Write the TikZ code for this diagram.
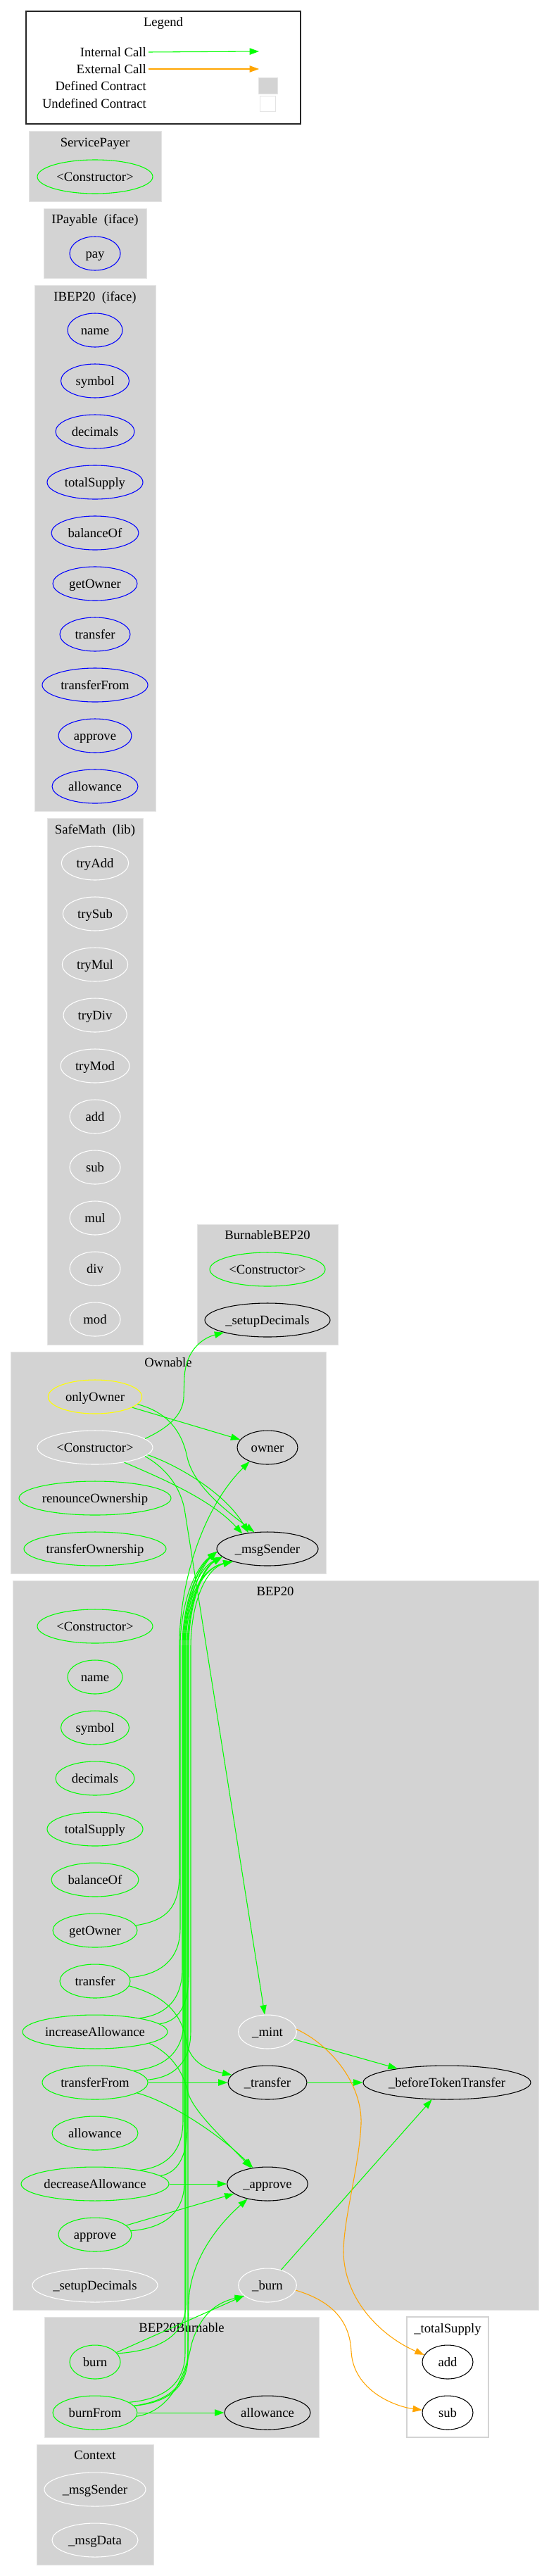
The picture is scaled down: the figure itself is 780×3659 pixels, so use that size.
\documentclass[tikz,border=0pt]{standalone}
\usepackage{fontspec}
\setmainfont{Liberation Serif}
\usetikzlibrary{shapes.geometric,arrows.meta}
\definecolor{cgreen}{HTML}{00FF00}
\definecolor{corange}{HTML}{FFA500}
\definecolor{cyellow}{HTML}{FFFF00}
\definecolor{cblue}{HTML}{0000FF}
\definecolor{cgray}{HTML}{D3D3D3}
\definecolor{cedge}{HTML}{E4E4E4}
\newcommand\toMsg[5]{\draw[ie] (#1) .. controls ({#2+0.6*(#4-#2)},{#3-4}) and (#4,{#3-25}) .. (#4,{#3-70}) -- (#4,2340) .. controls (#4,2280) and ({#4+20},2228) .. (msgO.#5);}
\begin{document}
\begin{tikzpicture}[x=0.75pt,y=-0.75pt,
  every node/.style={font=\fontsize{14pt}{16pt}\selectfont},
  fn/.style={ellipse, draw, inner sep=0pt, minimum height=36pt, line width=0.8pt, text height=12pt, text depth=3pt},
  ttl/.style={inner sep=0pt, text height=12pt, text depth=3pt},
  lt/.style={inner sep=0pt, text height=12pt, text depth=3pt, anchor=east},
  clus/.style={fill=cgray, draw=cedge, line width=0.75pt},
  ie/.style={draw=cgreen, line width=0.8pt, -{Triangle[length=10pt,width=7pt]}},
  ee/.style={draw=corange, line width=0.8pt, -{Triangle[length=10pt,width=7pt]}}]
\useasboundingbox (0,0) rectangle (780,3659);
\fill[white] (0,0) rectangle (780,3659);

% ---------- Legend ----------
\draw[line width=0.9pt, draw=black!85] (37,16) rectangle (427,176);
\node[ttl] (legT) at (232,31) {Legend};
\node[lt] (lg1) at (208,74) {Internal Call};
\node[lt] (lg2) at (208,98) {External Call};
\node[lt] (lg3) at (208,122) {Defined Contract};
\node[lt] (lg4) at (208,147) {Undefined Contract};
\coordinate (lg1e) at (368,73);
\coordinate (lg2e) at (368,98);
\draw[ie] ([xshift=2.25pt]lg1.east) -- (lg1e);
\draw[ee] ([xshift=2.25pt]lg2.east) -- (lg2e);
\draw[fill=cgray, draw=cedge, line width=0.75pt] (367,110) rectangle (394,133);
\draw[fill=white, draw=cedge, line width=0.75pt] (369,136) rectangle (391,158);

% ---------- Clusters ----------
\draw[clus] (41,186) rectangle (229,286);
\node[ttl] (tSP) at (135,202) {ServicePayer};
\draw[clus] (62,296) rectangle (208,395);
\node[ttl] (tIP) at (135,311) {IPayable\ \ (iface)};
\draw[clus] (49,405) rectangle (221,1152);
\node[ttl] (tIB) at (135,421) {IBEP20\ \ (iface)};
\draw[clus] (67,1162) rectangle (203,1910);
\node[ttl] (tSM) at (135,1178) {SafeMath\ \ (lib)};
\draw[clus] (280,1739) rectangle (480,1910);
\node[ttl] (tBB) at (380,1754) {BurnableBEP20};
\draw[clus] (15,1920) rectangle (463,2235);
\node[ttl] (tOW) at (239,1935) {Ownable};
\draw[clus] (18,2245) rectangle (765,3281);
\node[ttl] (tBE) at (391,2260) {BEP20};
\draw[clus] (63,3291) rectangle (453,3462);
\node[ttl] (tBU) at (258,3306) {BEP20Burnable};
\draw[fill=white, draw=cgray, line width=0.9pt] (578,3291) rectangle (694,3462);
\node[ttl] (tTS) at (636,3307) {\_totalSupply};
\draw[clus] (52,3472) rectangle (218,3643);
\node[ttl] (tCX) at (135,3487) {Context};

% ---------- Nodes ----------
\node[fn, draw=cgreen, minimum width=123pt] (spCtor) at (135,251) {<Constructor>};
\node[fn, draw=cblue, minimum width=54pt] (ipPay) at (135,360) {pay};

\node[fn, draw=cblue, minimum width=58.5pt] (ibName) at (135,469) {name};
\node[fn, draw=cblue, minimum width=72.75pt] (ibSymbol) at (135,541) {symbol};
\node[fn, draw=cblue, minimum width=84pt] (ibDecimals) at (135,613) {decimals};
\node[fn, draw=cblue, minimum width=102pt] (ibTotal) at (135,685) {totalSupply};
\node[fn, draw=cblue, minimum width=93pt] (ibBalance) at (135,757) {balanceOf};
\node[fn, draw=cblue, minimum width=90pt] (ibGetOwner) at (135,829) {getOwner};
\node[fn, draw=cblue, minimum width=75pt] (ibTransfer) at (135,901) {transfer};
\node[fn, draw=cblue, minimum width=112.5pt] (ibTransferFrom) at (135,973) {transferFrom};
\node[fn, draw=cblue, minimum width=78pt] (ibApprove) at (135,1045) {approve};
\node[fn, draw=cblue, minimum width=91.5pt] (ibAllowance) at (135,1117) {allowance};

\node[fn, draw=white, minimum width=71.5pt] (smTryAdd) at (135,1226) {tryAdd};
\node[fn, draw=white, minimum width=68.5pt] (smTrySub) at (135,1298) {trySub};
\node[fn, draw=white, minimum width=70pt] (smTryMul) at (135,1370) {tryMul};
\node[fn, draw=white, minimum width=67.5pt] (smTryDiv) at (135,1442) {tryDiv};
\node[fn, draw=white, minimum width=73.5pt] (smTryMod) at (135,1514) {tryMod};
\node[fn, draw=white, minimum width=54pt] (smAdd) at (135,1586) {add};
\node[fn, draw=white, minimum width=54pt] (smSub) at (135,1658) {sub};
\node[fn, draw=white, minimum width=54pt] (smMul) at (135,1730) {mul};
\node[fn, draw=white, minimum width=54pt] (smDiv) at (135,1802) {div};
\node[fn, draw=white, minimum width=54pt] (smMod) at (135,1874) {mod};

\node[fn, draw=cgreen, minimum width=123pt] (bbCtor) at (380,1803) {<Constructor>};
\node[fn, draw=black, minimum width=133.5pt] (bbSetup) at (380,1875) {\_setupDecimals};

\node[fn, draw=cyellow, minimum width=100pt] (onlyOwner) at (135,1984) {onlyOwner};
\node[fn, draw=white, minimum width=123pt] (ownCtor) at (135,2056) {<Constructor>};
\node[fn, draw=cgreen, minimum width=162pt] (ownRenounce) at (135,2128) {renounceOwnership};
\node[fn, draw=cgreen, minimum width=151.5pt] (ownTransferOwn) at (135,2200) {transferOwnership};
\node[fn, draw=black, minimum width=64.5pt] (owner) at (380,2056) {owner};
\node[fn, draw=black, minimum width=108pt] (msgO) at (380,2200) {\_msgSender};

\node[fn, draw=cgreen, minimum width=123pt] (bCtor) at (135,2310) {<Constructor>};
\node[fn, draw=cgreen, minimum width=58.5pt] (bName) at (135,2382) {name};
\node[fn, draw=cgreen, minimum width=72.75pt] (bSymbol) at (135,2454) {symbol};
\node[fn, draw=cgreen, minimum width=84pt] (bDecimals) at (135,2526) {decimals};
\node[fn, draw=cgreen, minimum width=102pt] (bTotal) at (135,2598) {totalSupply};
\node[fn, draw=cgreen, minimum width=93pt] (bBalance) at (135,2670) {balanceOf};
\node[fn, draw=cgreen, minimum width=90pt] (bGetOwner) at (135,2742) {getOwner};
\node[fn, draw=cgreen, minimum width=75pt] (bTransfer) at (135,2814) {transfer};
\node[fn, draw=cgreen, minimum width=154.5pt] (bInc) at (135,2886) {increaseAllowance};
\node[fn, draw=cgreen, minimum width=112.5pt] (bTF) at (135,2958) {transferFrom};
\node[fn, draw=cgreen, minimum width=91.5pt] (bAllowance) at (135,3030) {allowance};
\node[fn, draw=cgreen, minimum width=157.5pt] (bDec) at (135,3102) {decreaseAllowance};
\node[fn, draw=cgreen, minimum width=78pt] (bApprove) at (135,3174) {approve};
\node[fn, draw=white, minimum width=133.5pt] (bSetup) at (135,3246) {\_setupDecimals};

\node[fn, draw=white, minimum width=62pt] (mint) at (380,2886) {\_mint};
\node[fn, draw=black, minimum width=84pt] (xfer) at (380,2958) {\_transfer};
\node[fn, draw=black, minimum width=86pt] (appr) at (380,3102) {\_approve};
\node[fn, draw=white, minimum width=62pt] (burnI) at (380,3246) {\_burn};
\node[fn, draw=black, minimum width=178.5pt] (btt) at (635,2958) {\_beforeTokenTransfer};

\node[fn, draw=cgreen, minimum width=54pt] (bbBurn) at (135,3355) {burn};
\node[fn, draw=cgreen, minimum width=90pt] (bbBurnFrom) at (135,3427) {burnFrom};
\node[fn, draw=black, minimum width=91.5pt] (bbAllow) at (380,3427) {allowance};

\node[fn, draw=black, minimum width=54pt] (tsAdd) at (636,3355) {add};
\node[fn, draw=black, minimum width=54pt] (tsSub) at (636,3427) {sub};

\node[fn, draw=white, minimum width=108pt] (cxSender) at (135,3536) {\_msgSender};
\node[fn, draw=white, minimum width=91.5pt] (cxData) at (135,3608) {\_msgData};

% ---------- Edges: Ownable ----------
\draw[ie] (onlyOwner.-16) -- (owner.164);
\draw[ie] (onlyOwner.-10) .. controls (235,2005) and (258,2030) .. (266,2070) .. controls (275,2110) and (320,2145) .. (msgO.128);
\draw[ie] (ownCtor.10) .. controls (235,2030) and (260,2012) .. (261,1985) -- (262,1955) .. controls (265,1915) and (290,1900) .. (bbSetup.196);
\draw[ie] (ownCtor.-8) .. controls (250,2080) and (320,2120) .. (msgO.140);
\draw[ie] (ownCtor.-27) .. controls (230,2100) and (300,2130) .. (msgO.149);
\draw[ie] (ownCtor.-10) .. controls (235,2085) and (255,2110) .. (262,2143) -- (mint);

% ---------- Edges: BEP20 ----------
\draw[ie] (bGetOwner.7) .. controls (235,2728) and (255,2712) .. (255,2660) -- (255,2330) .. controls (257,2240) and (290,2140) .. (owner.218);
\toMsg{bTransfer.6}{184}{2809}{256}{183}
\toMsg{bInc.17}{199}{2866}{259}{183}
\toMsg{bInc.7}{230}{2875}{268}{190}
\toMsg{bTF.17}{189}{2941}{261}{190}
\toMsg{bTF.3}{210}{2955}{271}{200}
\toMsg{bDec.17}{199}{3082}{260}{183}
\toMsg{bDec.7}{230}{3090}{266}{190}
\toMsg{bApprove.6}{187}{3169}{262}{200}
\toMsg{bbBurn.21}{167}{3343}{264}{200}
\toMsg{bbBurnFrom.17}{185}{3412}{263}{183}
\toMsg{bbBurnFrom.10}{193}{3417}{267}{190}

\draw[ie] (bTransfer.-8) .. controls (235,2835) and (258,2860) .. (265,2900) .. controls (270,2930) and (295,2940) .. (xfer.168);
\draw[ie] (bInc.-12) .. controls (240,2915) and (260,2940) .. (267,2972) .. controls (275,3000) and (320,3040) .. (appr.136);
\draw[ie] (bTF.-14) .. controls (240,2985) and (310,3030) .. (appr.132);
\draw[ie] (bTF) -- (xfer);
\draw[ie] (bDec) -- (appr);
\draw[ie] (bApprove) -- (appr);
\draw[ie] (mint) -- (btt);
\draw[ie] (xfer) -- (btt);
\draw[ie] (burnI) -- (btt);
\draw[ie] (bbBurn) -- (burnI);
\draw[ie] (bbBurnFrom) -- (bbAllow);
\draw[ie] (bbBurnFrom.-5) .. controls (240,3425) and (262,3380) .. (272,3330) .. controls (285,3285) and (310,3270) .. (burnI.205);
\draw[ie] (bbBurnFrom.10) .. controls (240,3410) and (266,3390) .. (267,3340) -- (268,3270) .. controls (270,3210) and (310,3160) .. (appr.217);

% ---------- Edges: external ----------
\draw[ee] (mint.5) .. controls (470,2905) and (515,2960) .. (513,3017) .. controls (510,3080) and (488,3150) .. (488,3200) .. controls (490,3270) and (545,3320) .. (tsAdd.163);
\draw[ee] (burnI.-10) .. controls (470,3268) and (497,3295) .. (499,3340) .. controls (502,3395) and (560,3418) .. (tsSub.174);
\end{tikzpicture}
\end{document}
